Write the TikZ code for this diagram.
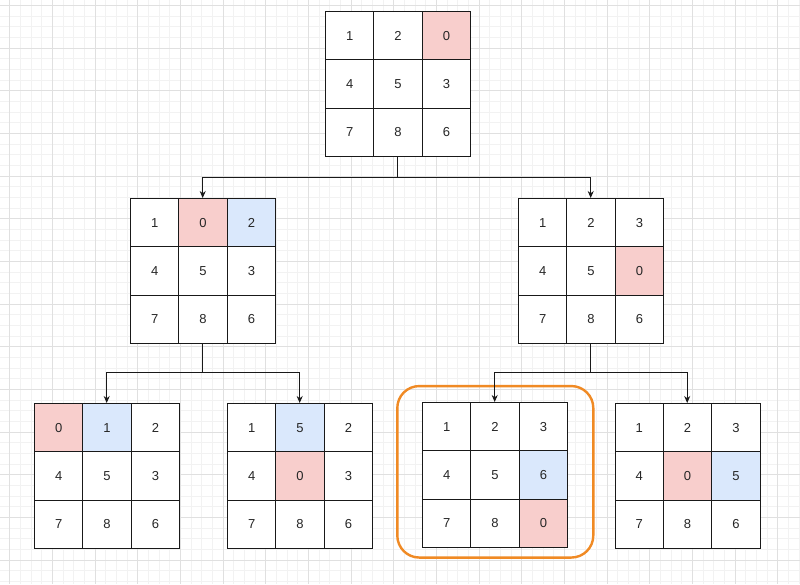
\documentclass[tikz,border=0pt]{standalone}
\usepackage{fontspec}
\setmainfont{Liberation Sans}
\usetikzlibrary{arrows.meta}
\definecolor{pinkc}{HTML}{F8CECC}
\definecolor{bluec}{HTML}{DAE8FC}
\definecolor{orangec}{RGB}{240,138,36}
\tikzset{
  cell/.style={draw=black!90, line width=1.1pt, minimum size=48.33pt, inner sep=0pt,
    font=\fontsize{13}{15}\selectfont, text=black!85, anchor=north west},
  wc/.style={fill=white}, rc/.style={fill=pinkc}, bc/.style={fill=bluec},
  boardbox/.style={minimum size=145pt, inner sep=0pt, anchor=north west},
  link/.style={line width=1pt, draw=black!90},
  arr/.style={link, -{Stealth[length=7pt,width=6pt]}},
  gridminor/.style={draw=black!5, line width=0.6pt},
  gridmajor/.style={draw=black!12, line width=0.7pt},
  hilite/.style={draw=orangec, line width=2.4pt, rounded corners=22pt}
}
\newcommand{\puzzleboard}[4]{%
  \node[boardbox] (#1) at (#2,#3) {};
  \foreach \v/\c [count=\i from 0] in {#4}{%
    \pgfmathtruncatemacro\row{\i/3}%
    \pgfmathtruncatemacro\col{\i-3*\row}%
    \pgfmathsetmacro\px{#2+\col*48.33}%
    \pgfmathsetmacro\py{#3+\row*48.33}%
    \node[cell,\c] (#1-\i) at (\px,\py) {\v};
  }}
\begin{document}
\begin{tikzpicture}[x=1pt,y=-1pt]
\useasboundingbox (0,0) rectangle (800,584);
\fill[white] (0,0) rectangle (800,584);
\foreach \i in {0,...,76}{\draw[gridminor] (\i*10.67-1.2,0) -- (\i*10.67-1.2,584);}
\foreach \i in {0,...,56}{\draw[gridminor] (0,\i*10.67-5.4) -- (800,\i*10.67-5.4);}
\foreach \i in {0,...,19}{\draw[gridmajor] (\i*42.68+9.5,0) -- (\i*42.68+9.5,584);}
\foreach \i in {0,...,14}{\draw[gridmajor] (0,\i*42.68+5.3) -- (800,\i*42.68+5.3);}

\puzzleboard{top}{325}{11}{1/wc,2/wc,0/rc,4/wc,5/wc,3/wc,7/wc,8/wc,6/wc}
\puzzleboard{ml}{130}{198}{1/wc,0/rc,2/bc,4/wc,5/wc,3/wc,7/wc,8/wc,6/wc}
\puzzleboard{mr}{518}{198}{1/wc,2/wc,3/wc,4/wc,5/wc,0/rc,7/wc,8/wc,6/wc}
\puzzleboard{ba}{34}{403}{0/rc,1/bc,2/wc,4/wc,5/wc,3/wc,7/wc,8/wc,6/wc}
\puzzleboard{bb}{227}{403}{1/wc,5/bc,2/wc,4/wc,0/rc,3/wc,7/wc,8/wc,6/wc}
\puzzleboard{bc}{422}{402}{1/wc,2/wc,3/wc,4/wc,5/wc,6/bc,7/wc,8/wc,0/rc}
\puzzleboard{bd}{614.5}{403}{1/wc,2/wc,3/wc,4/wc,0/rc,5/bc,7/wc,8/wc,6/wc}

\node[hilite, inner sep=0pt, minimum width=196pt, minimum height=171.5pt] (goal) at (495.3,471.8) {};

\coordinate (j0) at (top.south |- 0,177.5);
\coordinate (j1) at (ml.south |- 0,372.5);
\coordinate (j2) at (mr.south |- 0,372.5);
\draw[link] (top.south) -- (j0);
\draw[arr] (j0) -| (ml.north);
\draw[arr] (j0) -| (mr.north);
\draw[link] (ml.south) -- (j1);
\draw[arr] (j1) -| (ba.north);
\draw[arr] (j1) -| (bb.north);
\draw[link] (mr.south) -- (j2);
\draw[arr] (j2) -| (bc.north);
\draw[arr] (j2) -| (bd.north);
\end{tikzpicture}
\end{document}
